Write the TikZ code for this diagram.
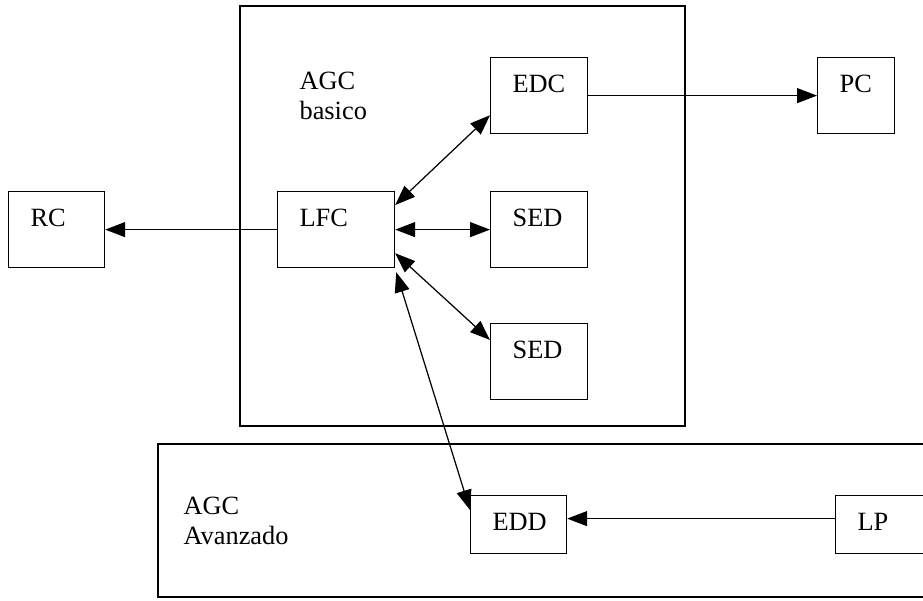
\documentclass[tikz,border=0pt]{standalone}
\usepackage{fontspec}
\setmainfont{Liberation Serif}
\usetikzlibrary{arrows.meta,calc}

\begin{document}
\begin{tikzpicture}[x=0.02cm,y=-0.02cm,line width=0.7pt,
    every node/.style={font=\fontsize{15}{17.5}\selectfont},
    blok/.style={draw,anchor=north west,inner xsep=0.44cm,inner ysep=0pt,
      text width=#1,align=left,text height=0.7cm,text depth=0.82cm},
    lowblok/.style={blok=#1,text height=0.7cm,text depth=0.46cm},
    conn/.style={-{Triangle[length=0.4cm,width=0.3cm]}},
    biconn/.style={{Triangle[length=0.4cm,width=0.3cm]}-{Triangle[length=0.4cm,width=0.3cm]}}]
    \useasboundingbox (0,0) rectangle (923,600);

    % Frames
    \draw (240,6) rectangle (685,426);
    \draw (158,444) rectangle (980,597);
    \node[anchor=north west,align=left,inner sep=0pt] (agcb) at (299,71) {AGC\\basico};
    \node[anchor=north west,align=left,inner sep=0pt] (agca) at (183,496) {AGC\\Avanzado};

    % Blocks
    \node[blok=1.04cm] (rc) at (8,191) {RC};
    \node[blok=1.46cm] (lfc) at (277,191) {LFC};
    \node[blok=1.06cm] (edc) at (490,57) {EDC};
    \node[blok=1.06cm] (sedA) at (490,191) {SED};
    \node[blok=1.06cm] (sedB) at (490,323) {SED};
    \node[blok=0.66cm] (pc) at (817,57) {PC};
    \node[lowblok=1.04cm] (edd) at (470,495) {EDD};
    \node[lowblok=1.2cm] (lp) at (835,495) {LP};

    % Links
    \draw[conn] (lfc.west) -- (rc.east);
    \draw[conn] (edc.east) -- (pc.west);
    \draw[biconn] ([yshift=-0.28cm]lfc.north east) -- ([yshift=0.38cm]edc.south west);
    \draw[biconn] (lfc.east) -- (sedA.west);
    \draw[biconn] ([yshift=0.3cm]lfc.south east) -- ([yshift=-0.34cm]sedB.north west);
    \draw[biconn] ([shift={(0.02cm,-0.08cm)}]lfc.south east) -- ([yshift=-0.3cm]edd.north west);
    \draw[conn] ([yshift=0.12cm]lp.west) -- ([yshift=0.12cm]edd.east);
  \end{tikzpicture}
\end{document}
